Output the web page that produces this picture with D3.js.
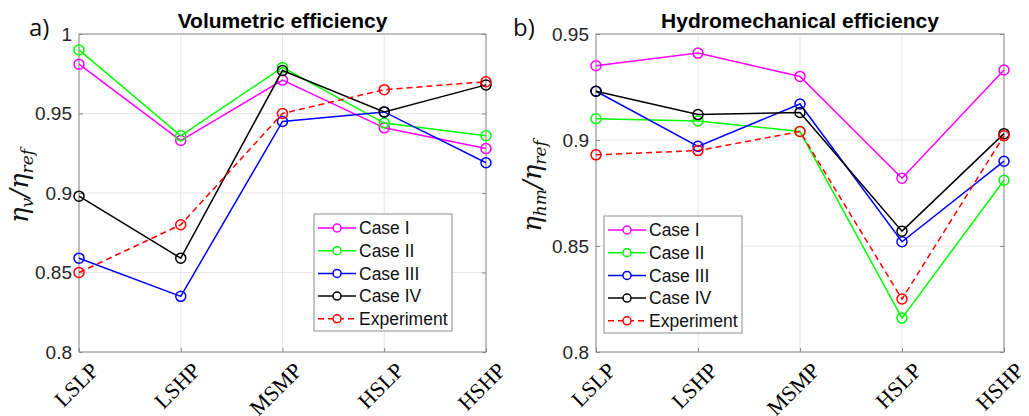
<!DOCTYPE html>
<html><head><meta charset="utf-8">
<script src="https://cdn.jsdelivr.net/npm/d3@7"></script>
<style>body{margin:0;background:#fff}svg{display:block}</style>
</head><body>
<svg id="c" width="1029" height="416"></svg>
<script>
const categories = ["LSLP","LSHP","MSMP","HSLP","HSHP"];
const seriesNames = ["Case I","Case II","Case III","Case IV","Experiment"];
const seriesColors = ["#ff00ff","#00ff00","#0000ff","#000000","#ff0000"];
// Volumetric efficiency
const volCaseI   = [0.981,0.933,0.971,0.941,0.928];
const volCaseII  = [0.990,0.936,0.979,0.944,0.936];
const volCaseIII = [0.859,0.835,0.945,0.951,0.919];
const volCaseIV  = [0.898,0.859,0.977,0.951,0.968];
const volExp     = [0.850,0.880,0.950,0.965,0.970];
const volTicks = [0.8,0.85,0.9,0.95,1];
const volTickLabels = ["0.8","0.85","0.9","0.95","1"];
// Hydromechanical efficiency
const hmCaseI   = [0.935,0.941,0.930,0.882,0.933];
const hmCaseII  = [0.910,0.909,0.904,0.816,0.881];
const hmCaseIII = [0.923,0.897,0.917,0.852,0.890];
const hmCaseIV  = [0.923,0.912,0.913,0.857,0.903];
const hmExp     = [0.893,0.895,0.904,0.825,0.902];
const hmTicks = [0.8,0.85,0.9,0.95];
const hmTickLabels = ["0.8","0.85","0.9","0.95"];

const svg = d3.select("#c");
const SANS = "'Liberation Sans', Arial, sans-serif";

function panel(opt){
  const g = svg.append("g");
  const x = d3.scalePoint().domain(categories).range([opt.x0, opt.x1]);
  const y = d3.scaleLinear().domain(opt.domain).range([352, 34]);
  // grid
  g.selectAll(null).data(categories).enter().append("line")
    .attr("x1",d=>x(d)).attr("x2",d=>x(d)).attr("y1",34).attr("y2",352)
    .attr("stroke","#e6e6e6").attr("stroke-width",1);
  g.selectAll(null).data(opt.ticks).enter().append("line")
    .attr("x1",opt.x0).attr("x2",opt.x1).attr("y1",d=>y(d)).attr("y2",d=>y(d))
    .attr("stroke","#e6e6e6").attr("stroke-width",1);
  // box
  g.append("rect").attr("x",opt.x0).attr("y",34).attr("width",opt.x1-opt.x0).attr("height",318)
    .attr("fill","none").attr("stroke","#8c8c8c").attr("stroke-width",1);
  // y ticks
  const ya = d3.axisLeft(y).tickValues(opt.ticks).tickFormat((d,i)=>opt.tickLabels[i]).tickSize(-4).tickPadding(7);
  const yg = g.append("g").attr("transform",`translate(${opt.x0},0)`).call(ya);
  yg.select(".domain").remove();
  yg.selectAll(".tick line").attr("stroke","#8c8c8c");
  yg.selectAll(".tick text").style("font-family",SANS).style("font-size","19px").attr("fill","#262626");
  const yg2 = g.append("g").attr("transform",`translate(${opt.x1},0)`).call(d3.axisRight(y).tickValues(opt.ticks).tickSize(-4).tickFormat(""));
  yg2.select(".domain").remove(); yg2.selectAll(".tick line").attr("stroke","#8c8c8c");
  // x ticks
  const xg = g.append("g").attr("transform","translate(0,352)").call(d3.axisBottom(x).tickSize(-4).tickFormat(""));
  xg.select(".domain").remove();
  xg.selectAll(".tick line").attr("stroke","#8c8c8c");
  g.selectAll(null).data(categories).enter().append("text")
    .attr("transform",d=>`translate(${x(d)+10},361) rotate(-45)`)
    .attr("text-anchor","end").attr("dy","0.7em")
    .style("font-family","'Liberation Serif', 'DejaVu Serif', serif").style("font-size","22px")
    .attr("fill","#000").text(d=>d);
  // lines
  const line = d3.line().x((d,i)=>x(categories[i])).y(d=>y(d));
  opt.series.forEach((s,k)=>{
    g.append("path").datum(s).attr("d",line).attr("fill","none")
      .attr("stroke",seriesColors[k]).attr("stroke-width",1.5)
      .attr("stroke-dasharray",k===4?"6,4":null);
    g.selectAll(null).data(s).enter().append("circle")
      .attr("cx",(d,i)=>x(categories[i])).attr("cy",d=>y(d)).attr("r",5)
      .attr("fill","none").attr("stroke",seriesColors[k]).attr("stroke-width",1.5);
  });
  // title
  g.append("text").attr("x",(opt.x0+opt.x1)/2).attr("y",28).attr("text-anchor","middle")
    .style("font-family",SANS).style("font-weight","bold").style("font-size","21px")
    .attr("fill","#000").text(opt.title);
  // panel letter
  g.append("text").attr("x",opt.letterX).attr("y",36).style("font-family","'Open Sans', sans-serif")
    .style("font-size","24px").attr("fill","#111").text(opt.letter);
  // y label
  const yl = g.append("text").attr("transform",`translate(${opt.ylabX},186) rotate(-90)`)
    .attr("text-anchor","middle").style("font-family","'DejaVu Serif', serif").style("font-style","italic")
    .style("font-size","26px").attr("fill","#111");
  yl.append("tspan").text("η");
  yl.append("tspan").style("font-size","17px").attr("dy",5).text(opt.sub);
  yl.append("tspan").attr("dy",-5).text("/η");
  yl.append("tspan").style("font-size","17px").attr("dy",5).text("ref");
  // legend
  const L = g.append("g").attr("transform",`translate(${opt.legX},${opt.legY})`);
  L.append("rect").attr("x",0).attr("y",0).attr("width",138).attr("height",117)
    .attr("fill","#fff").attr("stroke","#8c8c8c").attr("stroke-width",1);
  seriesNames.forEach((n,k)=>{
    const yy = 14 + k*22.7;
    L.append("line").attr("x1",4).attr("x2",42).attr("y1",yy).attr("y2",yy)
      .attr("stroke",seriesColors[k]).attr("stroke-width",1.5).attr("stroke-dasharray",k===4?"6,4":null);
    L.append("circle").attr("cx",23).attr("cy",yy).attr("r",4).attr("fill","#fff")
      .attr("stroke",seriesColors[k]).attr("stroke-width",1.5);
    L.append("text").attr("x",45).attr("y",yy).attr("dy","0.35em")
      .style("font-family",SANS).style("font-size","17.5px").attr("fill","#111").text(n);
  });
}

panel({x0:79,x1:486,domain:[0.8,1],ticks:volTicks,tickLabels:volTickLabels,
  series:[volCaseI,volCaseII,volCaseIII,volCaseIV,volExp],
  title:"Volumetric efficiency",letter:"a)",letterX:29,ylabX:28,sub:"v",legX:314,legY:214});
panel({x0:596,x1:1004,domain:[0.8,0.95],ticks:hmTicks,tickLabels:hmTickLabels,
  series:[hmCaseI,hmCaseII,hmCaseIII,hmCaseIV,hmExp],
  title:"Hydromechanical efficiency",letter:"b)",letterX:513,ylabX:541,sub:"hm",legX:604,legY:216});
</script>
</body></html>
